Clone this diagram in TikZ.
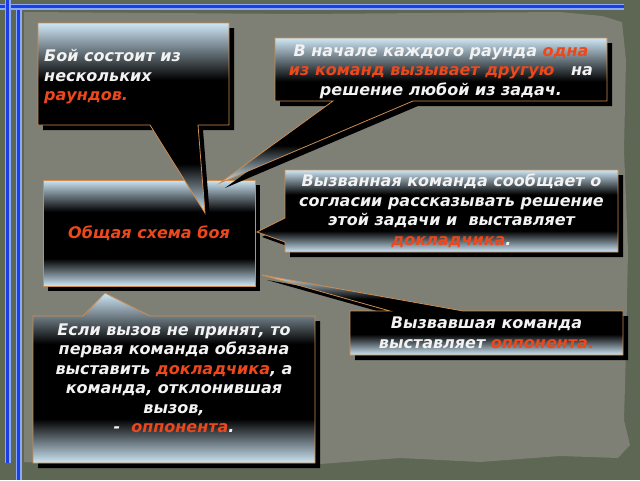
\documentclass[tikz,border=0pt]{standalone}
\usepackage{fontspec}
\setmainfont{DejaVu Sans}
\usetikzlibrary{positioning,calc}

\definecolor{paper}{RGB}{126,128,118}
\definecolor{olive}{RGB}{94,102,84}
\definecolor{sky}{RGB}{205,230,245}
\definecolor{edge}{RGB}{205,140,80}
\definecolor{hot}{RGB}{236,72,28}
\definecolor{rule}{RGB}{28,62,230}
\definecolor{ruleedge}{RGB}{140,170,250}
\definecolor{ink}{RGB}{242,242,242}

\pgfdeclareverticalshading{callshade}{100bp}{color(0bp)=(sky); color(25bp)=(sky);
  color(38bp)=(black); color(60bp)=(black); color(75bp)=(sky); color(100bp)=(sky)}

\newcommand{\hl}[1]{\textcolor{hot}{#1}}

\begin{document}
\begin{tikzpicture}[x=1pt,y=-1pt,
    frame/.style={rectangle,inner sep=0pt,outer sep=0pt},
    call/.style={shading=callshade,draw=edge,line width=0.8pt,
                 preaction={fill=black,transform canvas={xshift=5pt,yshift=-5pt}}},
    txt/.style={text=ink,inner sep=0pt,font=\fontsize{16}{19.5}\selectfont\bfseries\itshape},
    bar/.style={draw=ruleedge,line width=6pt,postaction={draw=rule,line width=3.6pt}}]
  \tikzstyle{every node}=[]

  \useasboundingbox (0,0) rectangle (640,480);
  \fill[olive] (0,0) rectangle (640,480);
  \fill[paper] (24,12) -- (300,14) -- (560,12) -- (602,16) -- (622,22) -- (626,60)
    -- (624,150) -- (628,250) -- (626,350) -- (624,420) -- (630,445) -- (618,458)
    -- (560,456) -- (480,462) -- (400,458) -- (320,464) -- (200,460) -- (100,466)
    -- (24,462) -- cycle;

  \coordinate (h0) at (0,6.5);
  \coordinate (h1) at (624,6.5);
  \coordinate (v0) at (7.5,0);
  \coordinate (v1) at (7.5,463);
  \coordinate (w0) at (18.5,10);
  \coordinate (w1) at (18.5,480);
  \draw[bar] (h0) -- (h1);
  \draw[bar] (v0) -- (v1);
  \draw[bar] (w0) -- (w1);

  \node[frame,minimum width=191pt,minimum height=102pt] (b1) at (133.5,74)  {};
  \node[frame,minimum width=212pt,minimum height=106pt] (b2) at (149,233)   {};
  \node[frame,minimum width=332pt,minimum height=63pt]  (b3) at (441,69.5)  {};
  \node[frame,minimum width=333pt,minimum height=82pt]  (b4) at (451.5,211) {};
  \node[frame,minimum width=273pt,minimum height=44pt]  (b5) at (486.5,333) {};
  \node[frame,minimum width=282pt,minimum height=147pt] (b6) at (174,389.5) {};

  \coordinate (k1) at (205,213);
  \coordinate (k3) at (220,183);
  \coordinate (k4) at (257,232);
  \coordinate (k5) at (262,275);
  \coordinate (k6) at (105,293);

  \shadedraw[call] (b2.north west) rectangle (b2.south east);
  \shadedraw[call] (b1.north west) -- (b1.north east) -- (b1.south east)
    -- ($(b1.south west)+(160,0)$) -- (k1) -- ($(b1.south west)+(112,0)$)
    -- (b1.south west) -- cycle;
  \shadedraw[call] (b3.north west) -- (b3.north east) -- (b3.south east)
    -- ($(b3.south west)+(138,0)$) -- (k3) -- ($(b3.south west)+(58,0)$)
    -- (b3.south west) -- cycle;
  \shadedraw[call] (b4.north west) -- (b4.north east) -- (b4.south east)
    -- (b4.south west) -- ($(b4.north west)+(0,72)$) -- (k4)
    -- ($(b4.north west)+(0,48)$) -- cycle;
  \shadedraw[call] (b5.north west) -- ($(b5.north west)+(40,0)$) -- (k5)
    -- ($(b5.north west)+(113,0)$) -- (b5.north east) -- (b5.south east)
    -- (b5.south west) -- cycle;
  \shadedraw[call] (b6.north west) -- ($(b6.north west)+(50,0)$) -- (k6)
    -- ($(b6.north west)+(117,0)$) -- (b6.north east) -- (b6.south east)
    -- (b6.south west) -- cycle;

  \node[txt,align=left,right=6pt of b1.west,yshift=-3pt] (l1)
    {Бой состоит из\\нескольких\\\hl{раундов.}};
  \node[txt] (l2) at (b2) {\hl{Общая схема боя}};
  \node[txt,align=center,yshift=-2pt] (l3) at (b3)
    {В начале каждого раунда \hl{одна}\\\hl{из команд вызывает другую}\ \ \ на\\решение любой из задач.};
  \node[txt,align=center] (l4) at (b4)
    {Вызванная команда сообщает о\\согласии рассказывать решение\\этой задачи и\ \ выставляет\\\hl{докладчика}.};
  \node[txt,align=center] (l5) at (b5)
    {Вызвавшая команда\\выставляет \hl{оппонента.}};
  \node[txt,align=center,yshift=11pt] (l6) at (b6)
    {Если вызов не принят, то\\первая команда обязана\\выставить \hl{докладчика}, а\\команда, отклонившая\\вызов,\\-\ \ \hl{оппонента}.};
\end{tikzpicture}
\end{document}
